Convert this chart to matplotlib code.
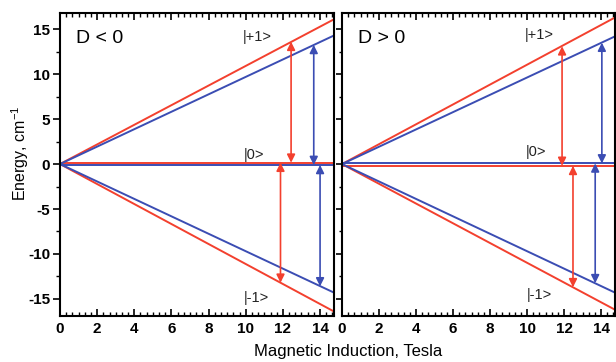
import matplotlib
matplotlib.use('Agg')
import matplotlib.pyplot as plt
from matplotlib.ticker import MultipleLocator, AutoMinorLocator

plt.rcParams['font.family'] = ['Liberation Sans', 'DejaVu Sans']
plt.rcParams['mathtext.fontset'] = 'custom'
plt.rcParams['mathtext.rm'] = 'Liberation Sans'
plt.rcParams['axes.unicode_minus'] = False

RED = '#f3402e'
BLUE = '#3b4db3'

# field range (Tesla) at the two ends of each level line
b_field = [0.0, 14.75]

# D < 0 panel, energy levels (cm-1) at b_field ends
neg_red_plus = [0.0, 16.1]
neg_red_zero = [0.15, 0.15]
neg_red_minus = [0.0, -16.4]
neg_blue_plus = [0.0, 14.3]
neg_blue_zero = [-0.1, -0.1]
neg_blue_minus = [0.0, -14.3]

# D > 0 panel
pos_red_plus = [0.0, 16.3]
pos_red_zero = [-0.2, -0.2]
pos_red_minus = [0.0, -16.2]
pos_blue_plus = [0.0, 14.2]
pos_blue_zero = [0.07, 0.07]
pos_blue_minus = [0.0, -14.3]

# transitions: field, start energy, end energy, colour
neg_arrow_b = [12.44, 13.66, 11.87, 14.0]
neg_arrow_from = [0.15, -0.1, 0.15, -0.1]
neg_arrow_to = [13.6, 13.25, -13.2, -13.6]
neg_arrow_col = [RED, BLUE, RED, BLUE]

pos_arrow_b = [11.89, 14.04, 12.48, 13.68]
pos_arrow_from = [-0.2, 0.07, -0.2, 0.07]
pos_arrow_to = [13.1, 13.5, -13.7, -13.25]
pos_arrow_col = [RED, BLUE, RED, BLUE]

level_names = ['|+1>', '|0>', '|-1>']
neg_label_b = [9.85, 9.9, 9.9]
neg_label_e = [14.1, 1.0, -14.9]
pos_label_b = [9.85, 9.95, 10.0]
pos_label_e = [14.3, 1.3, -14.6]

fig = plt.figure(figsize=(6.16, 3.62), dpi=100)
ax1 = fig.add_axes([60 / 616, 1 - 316 / 362, 274 / 616, 303 / 362])
ax2 = fig.add_axes([342 / 616, 1 - 316 / 362, 273 / 616, 303 / 362])


def draw_panel(ax, reds, blues, arr_b, arr_from, arr_to, arr_col, title, lab_b, lab_e):
    for e in reds:
        ax.plot(b_field, e, color=RED, lw=1.4)
    for e in blues:
        ax.plot(b_field, e, color=BLUE, lw=1.4)
    for b, e0, e1, c in zip(arr_b, arr_from, arr_to, arr_col):
        ax.annotate('', xy=(b, e1), xytext=(b, e0),
                    arrowprops=dict(arrowstyle='<|-|>', color=c, lw=1.2,
                                    mutation_scale=12, shrinkA=0, shrinkB=0))
    ax.text(0.85, 14.0, title, fontsize=14, va='center', ha='left')
    for name, b, e in zip(level_names, lab_b, lab_e):
        ax.text(b, e, name, fontsize=10.5, va='center', ha='left', color='#222222')
    ax.set_xlim(0, 14.75)
    ax.set_ylim(-16.9, 16.8)
    ax.xaxis.set_major_locator(MultipleLocator(2))
    ax.xaxis.set_minor_locator(AutoMinorLocator(6))
    ax.yaxis.set_major_locator(MultipleLocator(5))
    ax.yaxis.set_minor_locator(AutoMinorLocator(2))
    ax.tick_params(axis='x', which='both', direction='in', top=True, bottom=True)
    ax.tick_params(axis='x', which='major', length=5, width=1.2, labelsize=11, pad=4)
    ax.tick_params(axis='x', which='minor', length=3, width=1)
    ax.tick_params(axis='y', which='both', direction='out', right=False)
    ax.tick_params(axis='y', which='major', length=5, width=1.2, labelsize=11, pad=2)
    ax.tick_params(axis='y', which='minor', length=3, width=1)
    for lbl in ax.get_xticklabels() + ax.get_yticklabels():
        lbl.set_fontweight('bold')
    for s in ax.spines.values():
        s.set_linewidth(1.5)


draw_panel(ax1, [neg_red_plus, neg_red_zero, neg_red_minus],
           [neg_blue_plus, neg_blue_zero, neg_blue_minus],
           neg_arrow_b, neg_arrow_from, neg_arrow_to, neg_arrow_col,
           'D < 0', neg_label_b, neg_label_e)
draw_panel(ax2, [pos_red_plus, pos_red_zero, pos_red_minus],
           [pos_blue_plus, pos_blue_zero, pos_blue_minus],
           pos_arrow_b, pos_arrow_from, pos_arrow_to, pos_arrow_col,
           'D > 0', pos_label_b, pos_label_e)
ax2.set_yticklabels([])
ax2.tick_params(axis='y', which='major', length=4)
ax2.tick_params(axis='y', which='minor', length=2)

fig.text(0.032, 0.577, 'Energy, cm$^{-1}$', rotation=90, fontsize=11.5,
         ha='center', va='center')
fig.text(0.565, 0.03, 'Magnetic Induction, Tesla', fontsize=12,
         ha='center', va='center')

fig.savefig('out.png', dpi=100)
